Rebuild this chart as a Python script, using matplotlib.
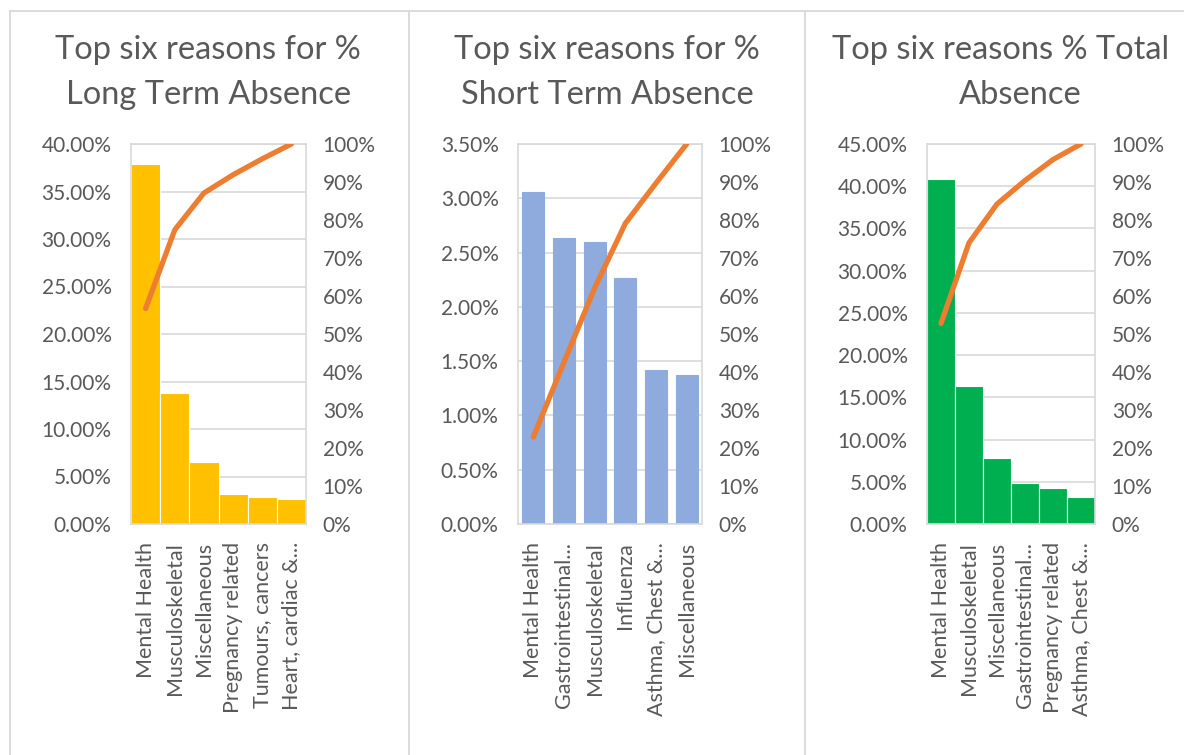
import matplotlib
matplotlib.use("Agg")
import matplotlib.pyplot as plt
from matplotlib.lines import Line2D
from matplotlib.ticker import FuncFormatter, MultipleLocator

plt.rcParams['font.family'] = ['Lato', 'DejaVu Sans']

# ---- data ----
long_cats = ["Mental Health", "Musculoskeletal", "Miscellaneous", "Pregnancy related",
             "Tumours, cancers", "Heart, cardiac &..."]
long_vals = [37.9, 13.8, 6.5, 3.2, 2.8, 2.6]
long_cum = [56.7, 77.4, 87.1, 91.9, 96.1, 100.0]

short_cats = ["Mental Health", "Gastrointestinal...", "Musculoskeletal", "Influenza",
              "Asthma, Chest &...", "Miscellaneous"]
short_vals = [3.06, 2.63, 2.60, 2.27, 1.42, 1.37]
short_cum = [22.9, 42.6, 62.1, 79.1, 89.7, 100.0]

total_cats = ["Mental Health", "Musculoskeletal", "Miscellaneous", "Gastrointestinal...",
              "Pregnancy related", "Asthma, Chest &..."]
total_vals = [40.9, 16.4, 7.85, 4.8, 4.3, 3.2]
total_cum = [52.8, 74.0, 84.2, 90.4, 95.9, 100.0]

W, H = 1184, 755
fig = plt.figure(figsize=(W / 100, H / 100), dpi=100)

TXT = "#595959"
GRID = "#d9d9d9"
ORANGE = "#ED7D31"
TICK_FS = 15
CAT_FS = 15.5


def px_axes(l, r, t, b):
    return fig.add_axes([l / W, 1 - b / H, (r - l) / W, (b - t) / H])


def panel(l, r, cats, vals, cum, color, ymax, ystep, bar_w, titles):
    ax = px_axes(l, r, 144, 524)
    x = list(range(len(cats)))
    ax.bar(x, vals, width=bar_w, color=color,
           edgecolor="white" if bar_w >= 1 else color, linewidth=0.8, zorder=2)
    ax.set_xlim(-0.5, len(cats) - 0.5)
    ax.set_ylim(0, ymax)
    ax.yaxis.set_major_locator(MultipleLocator(ystep))
    ax.yaxis.set_major_formatter(FuncFormatter(lambda v, p: f"{v:.2f}%"))
    ax.grid(axis="y", color=GRID, linewidth=1.2, zorder=0)
    ax.set_axisbelow(True)
    ax.set_xticks(x)
    ax.set_xticklabels(cats, rotation=90, ha="center", va="top", fontsize=CAT_FS)
    ax.tick_params(axis="both", length=0, colors=TXT)
    ax.tick_params(axis="y", pad=14, labelsize=TICK_FS)
    ax.tick_params(axis="x", pad=13)
    for s in ax.spines.values():
        s.set_color(GRID)
        s.set_linewidth(1.2)

    ax2 = ax.twinx()
    ax2.plot(x, cum, color=ORANGE, linewidth=3.8, solid_capstyle="round", zorder=3)
    ax2.set_ylim(0, 100)
    ax2.yaxis.set_major_locator(MultipleLocator(10))
    ax2.yaxis.set_major_formatter(FuncFormatter(lambda v, p: f"{v:.0f}%"))
    ax2.tick_params(axis="y", length=0, colors=TXT, labelsize=TICK_FS, pad=12)
    for s in ax2.spines.values():
        s.set_visible(False)

    for (txt, cx, cy) in titles:
        fig.text(cx / W, 1 - cy / H, txt, ha="center", va="center",
                 fontsize=23.5, color=TXT)


panel(131, 306, long_cats, long_vals, long_cum, "#FFC000", 40, 5, 1.0,
      [("Top six reasons for %", 208, 50), ("Long Term Absence", 209, 95)])
panel(518, 702, short_cats, short_vals, short_cum, "#8FAADC", 3.5, 0.5, 0.71,
      [("Top six reasons for %", 607, 50), ("Short Term Absence", 607, 95)])
panel(927, 1095, total_cats, total_vals, total_cum, "#00B050", 45, 5, 1.0,
      [("Top six reasons % Total", 1001, 50), ("Absence", 1020, 95)])


# frame / separator lines
def hline(x0, x1, y):
    fig.add_artist(Line2D([x0 / W, x1 / W], [1 - y / H, 1 - y / H], color=GRID, linewidth=1.3))


def vline(x, y0, y1):
    fig.add_artist(Line2D([x / W, x / W], [1 - y0 / H, 1 - y1 / H], color=GRID, linewidth=1.3))


hline(10, W, 11)
vline(10, 11, H)
vline(409, 11, H)
vline(805, 11, H)

fig.savefig("out.png", dpi=100, facecolor="white")
